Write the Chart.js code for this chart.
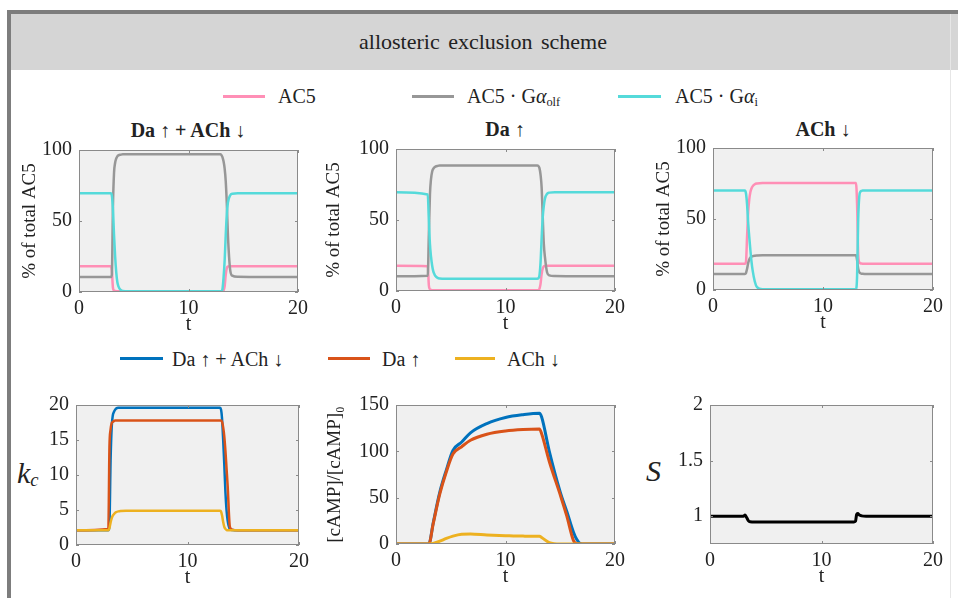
<!DOCTYPE html>
<html>
<head>
<meta charset="utf-8">
<script src="https://cdn.jsdelivr.net/npm/chart.js@4.4.0/dist/chart.umd.min.js"></script>
<style>
  body { margin: 0; width: 958px; height: 598px; background: #fff; position: relative; overflow: hidden;
         font-family: 'Liberation Serif', 'Times New Roman', 'DejaVu Serif', serif; color: #222; }
  .frame { position: absolute; left: 7px; top: 10px; width: 960px; height: 600px;
           border-top: 4px solid #7d7d7d; border-left: 4px solid #7d7d7d; }
  .head { position: absolute; left: 11px; top: 14px; width: 947px; height: 56px; background: #d5d5d5;
          text-align: center; line-height: 56px; font-size: 22px; word-spacing: 3px; }
  .head span { position: absolute; left: 0; width: 944px; }
  .edge { position: absolute; left: 950px; top: 14px; width: 1px; height: 584px; background: #e6e6e6; }
  .lg { position: absolute; height: 24px; line-height: 24px; font-size: 20px; white-space: nowrap; }
  .sw { position: absolute; height: 3px; }
  .ptitle { position: absolute; width: 300px; text-align: center; font-size: 20px; font-weight: bold; line-height: 24px; }
  .ylab { position: absolute; font-style: italic; font-size: 30px; line-height: 30px; }
  canvas { position: absolute; }
  sub { font-size: 62%; vertical-align: -3px; line-height: 0; }
</style>
</head>
<body>
<div class="frame"></div>
<div class="head"><span>allosteric exclusion scheme</span></div>
<div class="edge"></div>

<div class="sw" style="left:223px;top:95px;width:42px;background:#ff8fb6"></div>
<div class="lg" style="left:278px;top:84px">AC5</div>
<div class="sw" style="left:412px;top:95px;width:42px;background:#979797"></div>
<div class="lg" style="left:467px;top:84px">AC5 · G<i>α</i><sub>olf</sub></div>
<div class="sw" style="left:618px;top:95px;width:43px;background:#55dada"></div>
<div class="lg" style="left:675px;top:84px">AC5 · G<i>α</i><sub>i</sub></div>

<div class="ptitle" style="left:38px;top:118px">Da ↑ + ACh ↓</div>
<div class="ptitle" style="left:355px;top:117px">Da ↑</div>
<div class="ptitle" style="left:673px;top:117px">ACh ↓</div>

<div class="sw" style="left:120px;top:357px;width:43px;background:#0072bd"></div>
<div class="lg" style="left:172px;top:347px">Da ↑ + ACh ↓</div>
<div class="sw" style="left:328px;top:357px;width:42px;background:#d95319"></div>
<div class="lg" style="left:382px;top:347px">Da ↑</div>
<div class="sw" style="left:455px;top:357px;width:40px;background:#edb120"></div>
<div class="lg" style="left:507px;top:347px">ACh ↓</div>

<div class="ylab" style="left:17px;top:458px">k<sub>c</sub></div>
<div class="ylab" style="left:646px;top:456px">S</div>

<canvas id="p1"></canvas>
<canvas id="p2"></canvas>
<canvas id="p3"></canvas>
<canvas id="p4"></canvas>
<canvas id="p5"></canvas>
<canvas id="p6"></canvas>

<script>
// time grid shared by the AC5 panels and the k_c panel
const tTop = [0, 2.9, 3.0, 3.1, 3.2, 3.3, 3.4, 3.5, 3.6, 3.8, 4.0, 4.5, 6, 8, 10, 12, 12.9, 13.0, 13.1, 13.2, 13.3, 13.4, 13.5, 13.6, 13.8, 14.0, 14.5, 16, 18, 20];

// Da up + ACh down
const ac5Both = [18.1, 18.1, 15, 3, 1, 0.7, 0.6, 0.5, 0.5, 0.5, 0.5, 0.5, 0.5, 0.5, 0.5, 0.5, 0.5, 0.5, 0.6, 1, 4, 12, 17, 18, 18.1, 18.1, 18.1, 18.1, 18.1, 18.1];
const olfBoth = [10.6, 10.6, 12, 60, 84, 91, 94, 95.5, 96.2, 96.7, 97, 97, 97, 97, 97, 97, 97, 96.5, 95, 92, 87, 78, 62, 40, 16, 11.5, 10.7, 10.6, 10.6, 10.6];
const giBoth = [69.5, 69.5, 68, 58, 40, 25, 14, 7, 4, 1.5, 0.7, 0.5, 0.5, 0.5, 0.5, 0.5, 0.5, 0.6, 2, 10, 22, 40, 55, 63, 68, 69.2, 69.5, 69.5, 69.5, 69.5];

// Da up
const ac5Da = [17.7, 17.5, 4, 1.2, 0.7, 0.6, 0.5, 0.5, 0.5, 0.5, 0.5, 0.5, 0.5, 0.5, 0.5, 0.5, 0.5, 0.7, 1.5, 5, 12, 16, 17.3, 17.6, 17.7, 17.7, 17.7, 17.7, 17.7, 17.7];
const olfDa = [10.4, 10.8, 40, 68, 79, 84, 86, 87, 87.6, 88.1, 88.3, 88.4, 88.4, 88.4, 88.4, 88.4, 88.4, 88, 86.5, 82, 73, 52, 33, 24, 13, 11, 10.5, 10.4, 10.4, 10.4];
const giDa = [69.6, 68, 50, 33, 24, 18, 14, 12, 10.5, 9.2, 8.8, 8.6, 8.6, 8.6, 8.6, 8.6, 8.6, 9, 11, 20, 37, 52, 60, 65, 68.5, 69.3, 69.6, 69.6, 69.6, 69.6];

// ACh down
const ac5Ach = [18.5, 18.5, 20, 38, 55, 64, 69, 71.5, 73, 74.5, 75, 75.3, 75.3, 75.3, 75.3, 75.3, 75.3, 75.3, 60, 25, 19.5, 18.8, 18.6, 18.5, 18.5, 18.5, 18.5, 18.5, 18.5, 18.5];
const olfAch = [11.3, 11.3, 12, 15, 19, 21.5, 22.8, 23.5, 23.9, 24.2, 24.3, 24.4, 24.4, 24.4, 24.4, 24.4, 24.4, 24.4, 21, 15, 12.5, 11.8, 11.5, 11.4, 11.3, 11.3, 11.3, 11.3, 11.3, 11.3];
const giAch = [70.1, 70, 68, 60, 47, 37, 28, 20, 14, 6, 2, 0.6, 0.5, 0.5, 0.5, 0.5, 0.5, 0.5, 10, 50, 66, 69.2, 69.8, 70.1, 70.1, 70.1, 70.1, 70.1, 70.1, 70.1];

// k_c
const kBoth = [2.1, 2.1, 3, 12, 16.8, 18.5, 19, 19.3, 19.5, 19.6, 19.6, 19.6, 19.6, 19.6, 19.6, 19.6, 19.6, 19.4, 18, 15, 11.5, 7.6, 5, 3.5, 2.3, 2.15, 2.1, 2.1, 2.1, 2.1];
const kDa = [2.1, 2.3, 14, 16.5, 17.4, 17.6, 17.7, 17.8, 17.8, 17.8, 17.8, 17.8, 17.8, 17.8, 17.8, 17.8, 17.8, 17.8, 17.6, 16.8, 15.5, 13.5, 11, 8.5, 2.6, 2.2, 2.1, 2.1, 2.1, 2.1];
const kAch = [2.1, 2.1, 2.4, 3.2, 3.8, 4.2, 4.4, 4.6, 4.7, 4.8, 4.85, 4.9, 4.9, 4.9, 4.9, 4.9, 4.9, 4.8, 4.2, 3.3, 2.6, 2.3, 2.15, 2.1, 2.1, 2.1, 2.1, 2.1, 2.1, 2.1];

// cAMP
const tCamp = [0, 3, 3.4, 4, 4.6, 5.2, 6, 6.8, 8.3, 10, 11.6, 13.1, 13.3, 14, 15, 15.6, 16.2, 16.5, 16.8, 17.2, 20];
const campBoth = [0, 0, 23, 56, 80, 101, 110, 120, 130, 136.5, 139.5, 141, 137, 100, 56, 35, 13, 5, 0.7, 0, 0];
const campDa = [0, 0, 22, 54, 78, 97, 105, 112, 118.5, 122, 123.5, 124, 119, 89, 53, 30, 4, 0.3, 0, 0, 0];
const campAch = [0, 0, 0.5, 3, 6, 8.5, 10.5, 10.8, 9.8, 9, 8.5, 8.3, 7, 1.5, 0, 0, 0, 0, 0, 0, 0];

// S
const tS = [0, 3.0, 3.15, 3.3, 3.45, 3.6, 4.0, 8, 12.9, 13.05, 13.15, 13.25, 13.4, 13.6, 14, 20];
const sVals = [1.0, 1.0, 1.01, 0.985, 0.958, 0.95, 0.948, 0.948, 0.948, 0.955, 1.015, 1.025, 1.01, 1.003, 1.0, 1.0];

const xTicks = [0, 10, 20];

const pink = '#ff8fb6', grey = '#979797', cyan = '#55dada';
const blue = '#0072bd', orange = '#d95319', yellow = '#edb120';

Chart.defaults.font.family = "'Liberation Serif', 'Times New Roman', 'DejaVu Serif', serif";
Chart.defaults.color = '#222';

const pts = (ts, vs) => ts.map((t, i) => ({ x: t, y: vs[i] }));

const boxPlugin = {
  id: 'box',
  beforeDraw(chart) {
    const { ctx, chartArea: a } = chart;
    ctx.save();
    ctx.fillStyle = '#f0f0f0';
    ctx.fillRect(a.left, a.top, a.width, a.height);
    ctx.restore();
  },
  afterDraw(chart) {
    const { ctx, chartArea: a, scales } = chart;
    ctx.save();
    ctx.strokeStyle = '#8a8a8a';
    ctx.lineWidth = 1;
    ctx.strokeRect(a.left + 0.5, a.top + 0.5, a.width - 1, a.height - 1);
    ctx.beginPath();
    scales.x.ticks.forEach((t) => {
      const px = Math.round(scales.x.getPixelForValue(t.value)) + 0.5;
      ctx.moveTo(px, a.bottom); ctx.lineTo(px, a.bottom - 3);
      ctx.moveTo(px, a.top); ctx.lineTo(px, a.top + 3);
    });
    scales.y.ticks.forEach((t) => {
      const py = Math.round(scales.y.getPixelForValue(t.value)) + 0.5;
      ctx.moveTo(a.left, py); ctx.lineTo(a.left + 3, py);
      ctx.moveTo(a.right, py); ctx.lineTo(a.right - 3, py);
    });
    ctx.stroke();
    ctx.restore();
  }
};

function line(ts, vs, color, order, width) {
  return {
    data: pts(ts, vs), borderColor: color, borderWidth: width || 2.5, pointRadius: 0,
    cubicInterpolationMode: 'monotone', order
  };
}

// plot box in page pixels, y axis width, and y range
function panel(id, geo, datasets, y) {
  const padTop = 14, padRight = 16, xH = 46;
  const canvas = document.getElementById(id);
  canvas.width = geo.yW + (geo.R - geo.L) + padRight;
  canvas.height = padTop + (geo.B - geo.T) + xH;
  canvas.style.left = (geo.L - geo.yW) + 'px';
  canvas.style.top = (geo.T - padTop) + 'px';

  new Chart(canvas, {
    type: 'line',
    data: { datasets },
    options: {
      responsive: false,
      animation: false,
      events: [],
      layout: { padding: { top: padTop, right: padRight, left: 0, bottom: 0 } },
      plugins: { legend: { display: false }, tooltip: { enabled: false } },
      scales: {
        x: {
          type: 'linear', min: 0, max: 20,
          afterBuildTicks: (s) => { s.ticks = xTicks.map((v) => ({ value: v })); },
          afterFit: (s) => { s.height = xH; },
          grid: { display: false, drawTicks: false },
          border: { display: false },
          ticks: { font: { size: 20 }, padding: 5, maxRotation: 0 },
          title: { display: true, text: 't', font: { size: 20 }, padding: { top: 0, bottom: 1 } }
        },
        y: {
          min: y.min, max: y.max,
          afterBuildTicks: (s) => { s.ticks = y.ticks.map((v) => ({ value: v })); },
          afterFit: (s) => { s.width = geo.yW; },
          grid: { display: false, drawTicks: false },
          border: { display: false },
          ticks: { font: { size: 20 }, padding: 7, callback: (v) => String(v) },
          title: { display: !!y.title, text: y.title || '', font: { size: 19 }, padding: { top: 0, bottom: 0 } }
        }
      }
    },
    plugins: [boxPlugin]
  });
}

const acY = { min: 0, max: 100, ticks: [0, 50, 100], title: '% of total AC5' };

panel('p1', { L: 79, T: 145, R: 298, B: 292, yW: 60 }, [
  line(tTop, ac5Both, pink, 2), line(tTop, olfBoth, grey, 1), line(tTop, giBoth, cyan, 0)
], acY);
panel('p2', { L: 396, T: 144, R: 615, B: 291, yW: 73 }, [
  line(tTop, ac5Da, pink, 2), line(tTop, olfDa, grey, 1), line(tTop, giDa, cyan, 0)
], acY);
panel('p3', { L: 713, T: 143, R: 933, B: 290, yW: 60 }, [
  line(tTop, ac5Ach, pink, 2), line(tTop, olfAch, grey, 1), line(tTop, giAch, cyan, 0)
], acY);
panel('p4', { L: 76, T: 400, R: 299, B: 545, yW: 50 }, [
  line(tTop, kBoth, blue, 2), line(tTop, kDa, orange, 1), line(tTop, kAch, yellow, 0)
], { min: 0, max: 20, ticks: [0, 5, 10, 15, 20] });
panel('p5', { L: 396, T: 400, R: 615, B: 544, yW: 72 }, [
  line(tCamp, campBoth, blue, 2, 3), line(tCamp, campDa, orange, 1, 3), line(tCamp, campAch, yellow, 0, 3)
], { min: 0, max: 150, ticks: [0, 50, 100, 150], title: '[cAMP]/[cAMP]₀' });
panel('p6', { L: 710, T: 400, R: 933, B: 544, yW: 50 }, [
  line(tS, sVals, '#000', 0, 3)
], { min: 0.75, max: 2, ticks: [1, 1.5, 2] });
</script>
</body>
</html>
